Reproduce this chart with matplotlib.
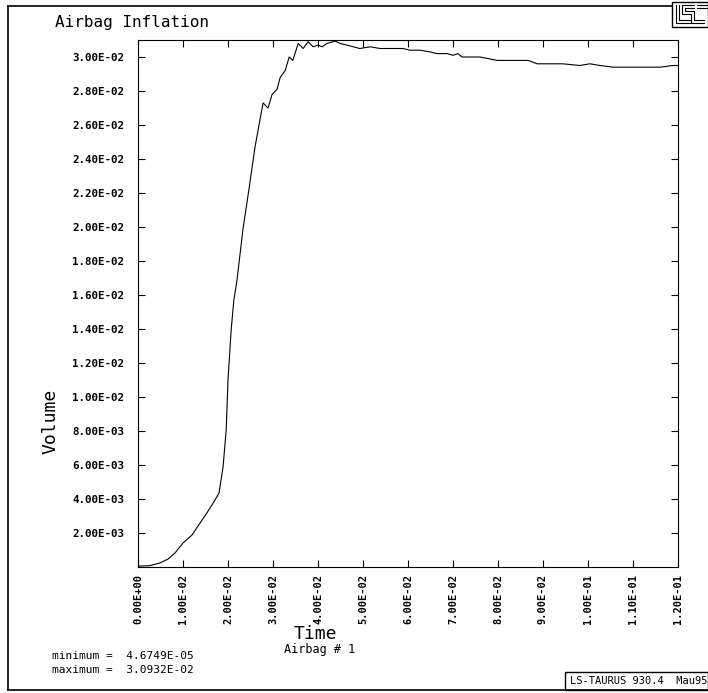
import matplotlib
matplotlib.use("Agg")
import matplotlib.pyplot as plt
from matplotlib.patches import Rectangle
from matplotlib.lines import Line2D

# ---- data ----
time = [0.0, 0.0027, 0.0049, 0.0067, 0.0082, 0.0100, 0.0120, 0.0138, 0.0153,
        0.0167, 0.0180, 0.0189, 0.0196, 0.0200, 0.0207, 0.0213, 0.0220, 0.0233,
        0.0247, 0.0260, 0.0271, 0.0278, 0.0289, 0.0298, 0.0309, 0.0316, 0.0327,
        0.0336, 0.0344, 0.0356, 0.0367, 0.0378, 0.0389, 0.0400, 0.0409, 0.0420,
        0.0438, 0.0449, 0.0464, 0.0493, 0.0516, 0.0538, 0.0567, 0.0589, 0.0604,
        0.0627, 0.0649, 0.0664, 0.0687, 0.0700, 0.0711, 0.0720, 0.0760, 0.0798,
        0.0833, 0.0867, 0.0887, 0.0909, 0.0944, 0.0982, 0.1004, 0.1027, 0.1056,
        0.1100, 0.1131, 0.1160, 0.1189, 0.1200]
volume = [0.0000467, 0.00008, 0.00024, 0.00047, 0.00082, 0.00141, 0.00188, 0.00259,
          0.00318, 0.00376, 0.00435, 0.00588, 0.00806, 0.0110, 0.01394, 0.0157,
          0.01688, 0.01982, 0.0223, 0.0247, 0.0263, 0.0273, 0.0270, 0.0278, 0.0281,
          0.0288, 0.0292, 0.0300, 0.0298, 0.0308, 0.0305, 0.0309, 0.0306, 0.0307,
          0.0306, 0.0308, 0.030932, 0.0308, 0.0307, 0.0305, 0.0306, 0.0305, 0.0305,
          0.0305, 0.0304, 0.0304, 0.0303, 0.0302, 0.0302, 0.0301, 0.0302, 0.0300,
          0.0300, 0.0298, 0.0298, 0.0298, 0.0296, 0.0296, 0.0296, 0.0295, 0.0296,
          0.0295, 0.0294, 0.0294, 0.0294, 0.0294, 0.0295, 0.0295]

x_ticks = [i * 0.01 for i in range(13)]
x_tick_labels = ["0.00E+00", "1.00E-02", "2.00E-02", "3.00E-02", "4.00E-02",
                 "5.00E-02", "6.00E-02", "7.00E-02", "8.00E-02", "9.00E-02",
                 "1.00E-01", "1.10E-01", "1.20E-01"]
y_ticks = [i * 0.002 for i in range(1, 16)]
y_tick_labels = ["2.00E-03", "4.00E-03", "6.00E-03", "8.00E-03", "1.00E-02",
                 "1.20E-02", "1.40E-02", "1.60E-02", "1.80E-02", "2.00E-02",
                 "2.20E-02", "2.40E-02", "2.60E-02", "2.80E-02", "3.00E-02"]

title = "Airbag Inflation"
x_title = "Time"
y_title = "Volume"
subtitle = "Airbag # 1"
min_text = "minimum =  4.6749E-05"
max_text = "maximum =  3.0932E-02"
footer = "LS-TAURUS 930.4  Mau95"

MONO = "DejaVu Sans Mono"
W, H = 708, 693
fig = plt.figure(figsize=(W / 100, H / 100), dpi=100)

def fx(px):
    return px / W

def fy(py):
    return 1 - py / H

ax = fig.add_axes([fx(138), fy(567), fx(678) - fx(138), fy(40) - fy(567)])
ax.plot(time, volume, color="black", lw=0.8)
ax.set_xlim(0, 0.12)
ax.set_ylim(0, 0.0310)
ax.set_xticks(x_ticks)
ax.set_xticklabels(x_tick_labels, rotation=90, family=MONO, fontsize=7.5,
                   fontweight="bold")
ax.set_yticks(y_ticks)
ax.set_yticklabels(y_tick_labels, family=MONO, fontsize=7.8, fontweight="bold")
ax.tick_params(direction="in", length=5, width=0.8, top=True, right=True,
               labeltop=False, labelright=False)
ax.tick_params(axis="y", pad=10)
ax.tick_params(axis="x", pad=5)
for s in ax.spines.values():
    s.set_linewidth(0.8)

# axis titles placed like the reference
fig.text(fx(315), fy(634), x_title, family=MONO, fontsize=13, va="center",
         ha="center")
fig.text(fx(50), fy(421), y_title, family=MONO, fontsize=13, va="center",
         ha="center", rotation=90)

# texts
fig.text(fx(55), fy(22), title, family=MONO, fontsize=11.5, va="center", ha="left")
fig.text(fx(320), fy(650), subtitle, family=MONO, fontsize=8.5, va="center",
         ha="center")
fig.text(fx(52), fy(656), min_text, family=MONO, fontsize=8, va="center", ha="left")
fig.text(fx(52), fy(670), max_text, family=MONO, fontsize=8, va="center", ha="left")

# outer frame lines
for (x0, y0, x1, y1) in [(8, 6, 672, 6), (8, 6, 8, 690), (8, 690, 708, 690)]:
    fig.add_artist(Line2D([fx(x0), fx(x1)], [fy(y0), fy(y1)], color="black",
                          lw=1.2, transform=fig.transFigure))

# footer box
fig.add_artist(Rectangle((fx(565), fy(690)), fx(708) - fx(565), fy(672) - fy(690),
                         fill=False, edgecolor="black", lw=1.0,
                         transform=fig.transFigure))
fig.text(fx(570), fy(681), footer, family=MONO, fontsize=7.5, va="center", ha="left")

# logo box (top right)
fig.add_artist(Rectangle((fx(672), fy(27)), fx(708) - fx(672), fy(2) - fy(27),
                         fill=False, edgecolor="black", lw=1.0,
                         transform=fig.transFigure))
logo_segments = [
    [(676, 5), (676, 23), (690, 23)],
    [(679, 5), (679, 20), (690, 20)],
    [(694, 5), (682, 5), (682, 14), (691, 14), (691, 23), (704, 23)],
    [(694, 8), (685, 8), (685, 11), (694, 11), (694, 20), (704, 20)],
    [(697, 5), (708, 5)],
    [(697, 8), (708, 8)],
]
for seg in logo_segments:
    xs = [fx(p[0]) for p in seg]
    ys = [fy(p[1]) for p in seg]
    fig.add_artist(Line2D(xs, ys, color="black", lw=0.8, transform=fig.transFigure))

fig.savefig("out.png", dpi=100)
